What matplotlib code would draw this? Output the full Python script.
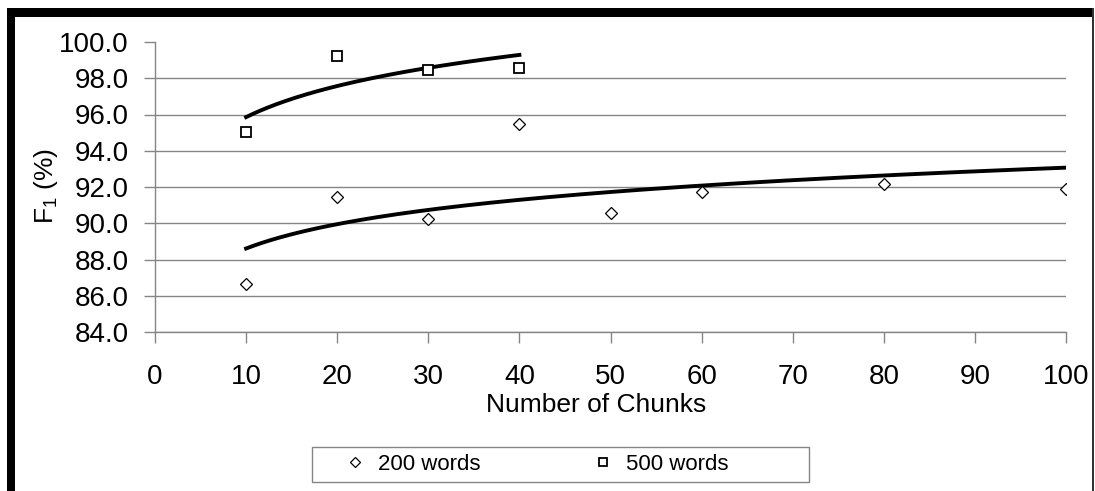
import numpy as np
import matplotlib
matplotlib.use("Agg")
import matplotlib.pyplot as plt
from matplotlib.patches import Rectangle

plt.rcParams['font.family'] = ['Liberation Sans', 'DejaVu Sans']
plt.rcParams['mathtext.default'] = 'regular'

# data
chunks_200 = [10, 20, 30, 40, 50, 60, 80, 100]
f1_200 = [86.65, 91.43, 90.25, 95.46, 90.55, 91.71, 92.15, 91.89]

chunks_500 = [10, 20, 30, 40]
f1_500 = [95.05, 99.23, 98.46, 98.55]

x_ticks = [0, 10, 20, 30, 40, 50, 60, 70, 80, 90, 100]
y_ticks = [84, 86, 88, 90, 92, 94, 96, 98, 100]

W, H = 1095, 491
fig = plt.figure(figsize=(W / 100, H / 100), dpi=100)
ax = fig.add_axes([155 / W, 1 - 332 / H, (1066 - 155) / W, (332 - 42) / H])

grey = "#858585"


# logarithmic trendlines (like Excel)
def log_trend(x, y):
    a, b = np.polyfit(np.log(x), y, 1)
    xs = np.linspace(min(x), max(x), 200)
    return xs, a * np.log(xs) + b


xs, ys = log_trend(chunks_200, f1_200)
ax.plot(xs, ys, color="black", lw=2.8, zorder=3)
xs, ys = log_trend(chunks_500, f1_500)
ax.plot(xs, ys, color="black", lw=2.8, zorder=3)

ax.plot(chunks_200, f1_200, ls="none", marker="D", ms=6.5, mfc="white",
        mec="black", mew=0.9, label="200 words", zorder=4)
ax.plot(chunks_500, f1_500, ls="none", marker="s", ms=6.5, mfc="white",
        mec="black", mew=1.3, label="500 words", zorder=4)

ax.set_xlim(0, 100)
ax.set_ylim(84, 100)
ax.set_xticks(x_ticks)
ax.set_yticks(y_ticks)
ax.set_yticklabels([f"{v:.1f}" for v in y_ticks])

ax.grid(axis="y", color=grey, lw=1.0)
ax.yaxis.get_gridlines()[-1].set_visible(False)
ax.set_axisbelow(True)

for s in ["top", "right"]:
    ax.spines[s].set_visible(False)
for s in ["left", "bottom"]:
    ax.spines[s].set_color(grey)
    ax.spines[s].set_linewidth(1.0)

ax.tick_params(axis="y", direction="out", length=8, width=1, color=grey,
               labelsize=20, pad=11)
ax.tick_params(axis="x", direction="out", length=8, width=1, color=grey,
               labelsize=20, pad=15)

ax.set_xlabel("Number of Chunks", fontsize=19)
ax.xaxis.set_label_coords(0.484, -0.212)
ax.set_ylabel("F$_1$ (%)", fontsize=19)
ax.yaxis.set_label_coords(-0.104, 0.505)

# legend: entries without frame, box drawn separately
leg = fig.legend(loc="center left", bbox_to_anchor=(344 / W, 1 - 464.5 / H),
                 ncol=2, frameon=False, fontsize=16,
                 handlelength=1.0, handletextpad=0.55, columnspacing=5.0,
                 borderpad=0, borderaxespad=0, markerscale=0.8)
fig.add_artist(Rectangle((312 / W, 1 - 482 / H), (809 - 312) / W, 35 / H,
                         transform=fig.transFigure, facecolor="none",
                         edgecolor=grey, lw=1.0))

# black frame around the chart
fig.add_artist(Rectangle((7 / W, 0), 8 / W, 1 - 8 / H, transform=fig.transFigure,
                         color="black", lw=0))
fig.add_artist(Rectangle((7 / W, 1 - 17 / H), (1094 - 7) / W, 9 / H,
                         transform=fig.transFigure, color="black", lw=0))
fig.add_artist(Rectangle((1092 / W, 0), 2 / W, 1 - 8 / H, transform=fig.transFigure,
                         color="#333333", lw=0))

fig.savefig("out.png", dpi=100)
